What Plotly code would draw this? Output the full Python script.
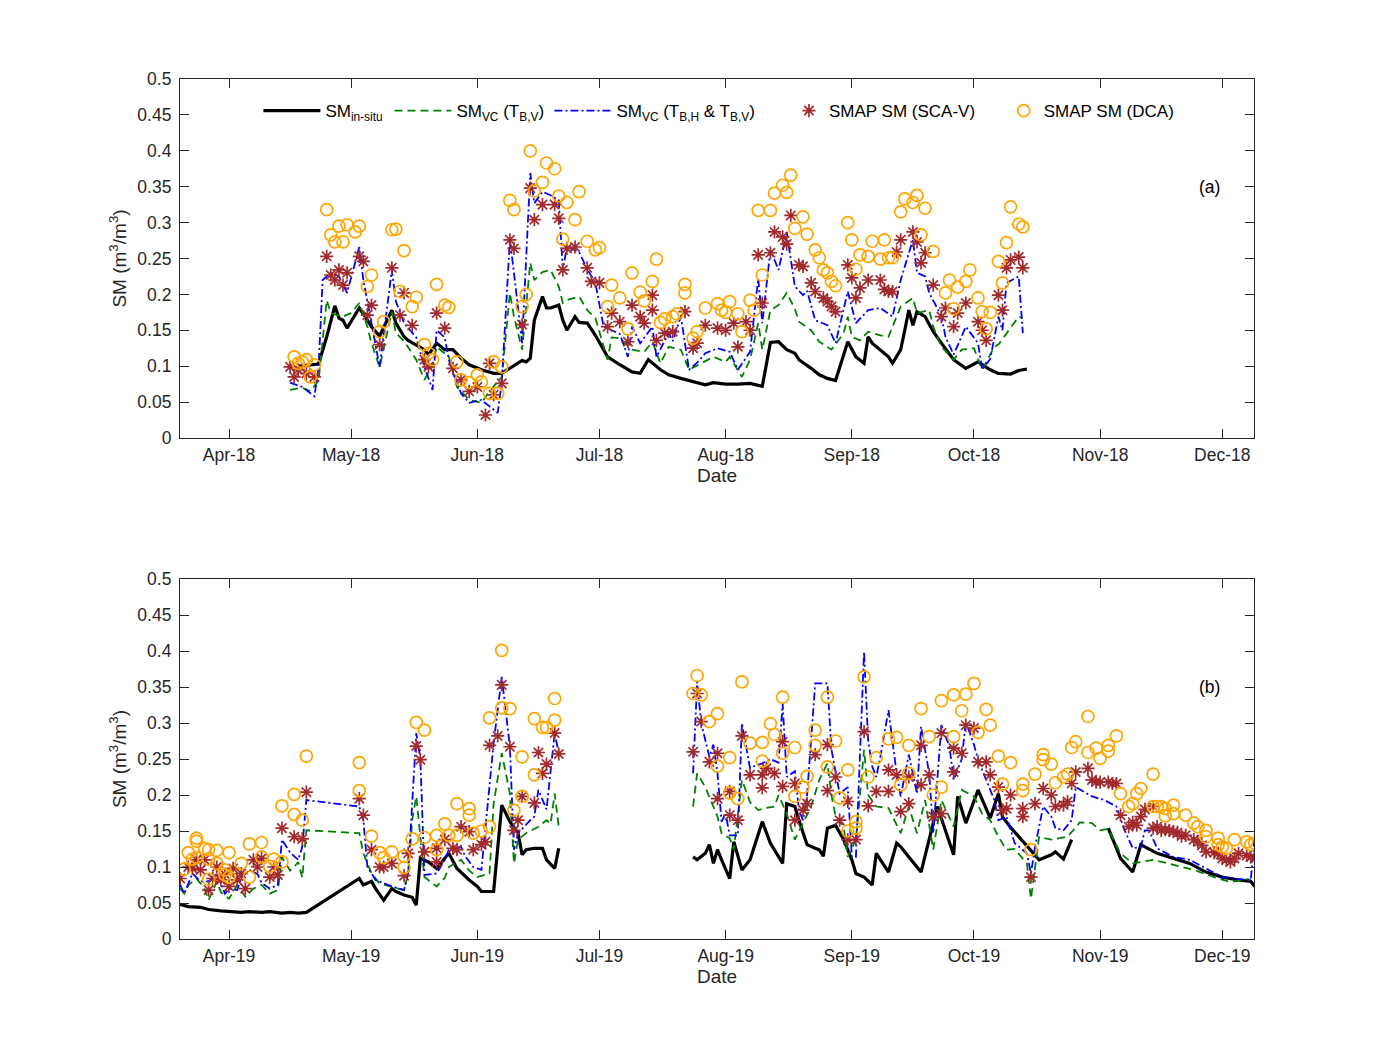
import pandas as pd
import plotly.graph_objects as go

# ---------------- DATA ----------------
# day offsets are counted from 1 April of each year
BASE_2018 = "2018-04-01"
BASE_2019 = "2019-04-01"

# ---- 2018 (panel a) ----
insitu18_days = [17,20,22,24,26,27,28,29,32,34,
                 35,37,40,41,43,44,46,48,49,51,
                 53,55,57,59,62,65,67,72,73,74,
                 75,77,78,79,81,82,83,85,86,88,
                 90,93,96,99,101,103,106,108,111,113,
                 117,119,122,125,128,131,133,135,137,139,
                 140,143,145,147,149,152,154,156,157,158,
                 160,162,163,165,166,167,168,169,171,173,
                 175,178,181,184,187,189,192,194,196]
insitu18_vals = [0.100,0.102,0.103,0.141,0.184,0.167,0.164,0.153,0.181,0.164,
                 0.155,0.142,0.178,0.160,0.141,0.136,0.130,0.123,0.116,0.132,
                 0.123,0.123,0.111,0.102,0.095,0.090,0.090,0.108,0.106,0.111,
                 0.164,0.197,0.181,0.181,0.185,0.164,0.150,0.169,0.161,0.160,
                 0.143,0.113,0.102,0.092,0.090,0.109,0.095,0.088,0.083,0.080,
                 0.074,0.077,0.075,0.075,0.076,0.072,0.133,0.134,0.123,0.118,
                 0.109,0.097,0.088,0.083,0.080,0.134,0.113,0.104,0.141,0.132,
                 0.123,0.113,0.104,0.123,0.150,0.178,0.157,0.176,0.169,0.148,
                 0.132,0.109,0.097,0.106,0.095,0.090,0.089,0.094,0.096]

vcv18_days = [15,18,20,22,24,25,28,30,32,34,
              35,37,40,41,43,45,46,48,50,51,
              54,56,59,62,64,67,69,70,72,74,
              75,77,79,81,82,83,86,88,90,93,
              94,96,99,102,104,106,108,111,113,116,
              119,122,123,126,128,130,131,133,135,137,
              139,140,143,145,148,151,152,153,155,157,
              160,162,165,168,169,172,173,175,178,180,
              183,185,188,189,191,194,195]
vcv18_vals = [0.067,0.070,0.065,0.080,0.192,0.174,0.169,0.174,0.188,0.155,
              0.132,0.099,0.176,0.146,0.135,0.118,0.109,0.081,0.100,0.127,
              0.113,0.071,0.053,0.049,0.065,0.085,0.202,0.169,0.123,0.244,
              0.220,0.231,0.234,0.211,0.188,0.192,0.197,0.178,0.167,0.109,
              0.140,0.139,0.123,0.120,0.134,0.104,0.127,0.123,0.095,0.104,
              0.113,0.106,0.113,0.085,0.109,0.160,0.123,0.178,0.185,0.202,
              0.180,0.162,0.150,0.134,0.123,0.146,0.169,0.141,0.136,0.148,
              0.143,0.141,0.183,0.195,0.174,0.178,0.155,0.127,0.109,0.123,
              0.125,0.095,0.127,0.130,0.146,0.169,0.167]

vchv18_days = [15,18,21,22,23,25,27,29,32,33,
               35,37,40,41,43,45,46,48,50,51,
               53,54,57,59,62,64,66,67,69,70,
               72,74,75,77,79,81,82,83,86,88,
               90,92,94,96,98,99,101,104,105,108,
               109,111,113,115,117,120,123,125,128,130,
               131,133,135,137,139,141,142,144,147,149,
               152,154,157,160,163,165,168,169,171,172,
               175,176,178,181,184,185,187,189,190,191,
               194,195]
vchv18_vals = [0.077,0.071,0.058,0.099,0.220,0.230,0.225,0.202,0.266,0.220,
               0.160,0.099,0.234,0.190,0.160,0.146,0.140,0.099,0.067,0.150,
               0.140,0.109,0.062,0.049,0.053,0.044,0.035,0.077,0.276,0.230,
               0.132,0.369,0.327,0.343,0.338,0.331,0.234,0.266,0.259,0.235,
               0.216,0.155,0.150,0.145,0.113,0.155,0.132,0.155,0.113,0.146,
               0.135,0.169,0.095,0.105,0.118,0.125,0.120,0.095,0.120,0.222,
               0.160,0.262,0.234,0.287,0.211,0.199,0.205,0.164,0.157,0.132,
               0.204,0.160,0.178,0.181,0.169,0.220,0.276,0.230,0.225,0.202,
               0.170,0.141,0.116,0.155,0.132,0.095,0.110,0.169,0.150,0.216,
               0.225,0.146]

sca18_days = [15,16,17,19,21,24,25,26,27,28,
              29,32,33,34,35,37,40,42,43,45,
              48,49,51,53,55,57,59,61,63,64,
              65,67,69,70,72,74,75,77,80,81,
              82,83,85,88,89,91,93,94,96,98,
              99,101,102,104,104,105,107,109,112,114,
              115,117,120,122,124,125,127,128,130,131,
              133,134,136,137,138,140,141,143,144,146,
              147,148,149,152,153,154,155,157,160,161,
              162,163,164,165,168,169,170,171,173,175,
              176,178,179,181,184,185,186,189,190,191,
              192,194,195]
sca18_vals = [0.099,0.085,0.095,0.090,0.085,0.253,0.227,0.220,0.234,0.213,
              0.230,0.253,0.246,0.171,0.185,0.130,0.237,0.171,0.202,0.157,
              0.109,0.099,0.174,0.153,0.097,0.081,0.065,0.071,0.032,0.104,
              0.060,0.076,0.276,0.264,0.158,0.348,0.304,0.325,0.325,0.306,
              0.234,0.264,0.266,0.237,0.218,0.216,0.155,0.174,0.162,0.134,
              0.185,0.169,0.160,0.199,0.178,0.136,0.146,0.148,0.176,0.125,
              0.132,0.157,0.153,0.150,0.160,0.127,0.162,0.150,0.255,0.188,
              0.258,0.287,0.280,0.270,0.310,0.241,0.239,0.216,0.204,0.195,
              0.190,0.183,0.176,0.241,0.223,0.195,0.209,0.220,0.220,0.207,
              0.204,0.204,0.259,0.276,0.287,0.273,0.244,0.258,0.213,0.169,
              0.181,0.155,0.174,0.188,0.162,0.150,0.136,0.199,0.178,0.237,
              0.248,0.252,0.237]

dca18_days = [16,17,18,19,20,21,24,25,26,27,
              28,29,31,32,34,35,37,38,40,41,
              42,43,45,46,48,49,50,51,53,54,
              56,57,59,61,62,64,65,66,67,69,
              70,72,73,74,75,77,78,80,81,82,
              83,85,86,88,90,91,93,94,96,98,
              99,101,102,104,105,106,107,109,110,112,
              112,114,115,117,120,121,122,123,125,126,
              128,129,130,131,133,134,136,137,138,139,
              141,142,144,145,146,147,148,149,152,153,
              154,155,157,158,160,161,162,163,165,166,
              168,169,170,171,173,176,177,178,179,181,
              182,184,185,186,187,189,190,191,192,194,
              195]
dca18_vals = [0.113,0.104,0.106,0.109,0.085,0.102,0.318,0.283,0.273,0.295,
              0.273,0.297,0.287,0.295,0.211,0.227,0.148,0.162,0.290,0.291,
              0.204,0.261,0.183,0.196,0.130,0.118,0.109,0.214,0.185,0.182,
              0.106,0.081,0.077,0.088,0.078,0.062,0.106,0.062,0.099,0.331,
              0.318,0.183,0.200,0.400,0.344,0.356,0.383,0.375,0.337,0.277,
              0.328,0.304,0.343,0.274,0.262,0.265,0.183,0.213,0.195,0.152,
              0.230,0.203,0.191,0.218,0.249,0.161,0.166,0.169,0.173,0.214,
              0.202,0.139,0.148,0.181,0.187,0.178,0.175,0.190,0.173,0.148,
              0.192,0.178,0.317,0.227,0.317,0.341,0.352,0.342,0.366,0.292,
              0.308,0.284,0.262,0.251,0.234,0.230,0.218,0.212,0.300,0.276,
              0.235,0.255,0.253,0.274,0.249,0.276,0.251,0.251,0.315,0.333,
              0.328,0.338,0.283,0.320,0.260,0.202,0.220,0.180,0.210,0.218,
              0.234,0.195,0.176,0.152,0.175,0.246,0.216,0.272,0.322,0.298,
              0.294]

# ---- 2019 (panel b) ; None = missing data ----
insitu19_days = [-12,-10,-7,-5,-2,0,3,5,8,10,
                 13,15,17,19,32,33,35,36,38,40,
                 41,43,44,45,46,47,49,51,54,56,
                 59,61,62,65,67,69,71,72,73,75,
                 77,78,80,81,95,114,115,117,118,119,
                 120,121,123,124,126,128,131,133,136,137,
                 139,140,142,144,145,146,147,149,151,153,
                 154,156,158,159,162,164,165,167,170,174,
                 175,178,179,181,184,187,189,190,192,194,
                 196,199,202,203,205,207,211,216,219,222,
                 224,225,228,232,236,240,244,248,251,252]
insitu19_vals = [0.048,0.045,0.044,0.041,0.039,0.038,0.037,0.038,0.037,0.038,
                 0.036,0.037,0.036,0.037,0.084,0.075,0.080,0.070,0.054,0.070,
                 0.066,0.061,0.059,0.058,0.047,0.112,0.107,0.098,0.119,0.098,
                 0.082,0.073,0.066,0.066,0.186,0.163,0.147,0.117,0.124,0.126,
                 0.126,0.110,0.098,0.126,None,0.114,0.110,0.119,0.131,0.105,
                 0.124,0.110,0.084,0.135,0.096,0.110,0.163,0.133,0.105,0.188,
                 0.184,0.165,0.131,0.126,0.124,0.115,0.154,0.158,0.138,0.110,
                 0.091,0.086,0.075,0.119,0.093,0.133,0.128,0.114,0.093,0.184,
                 0.168,0.117,0.198,0.161,0.207,0.168,0.202,0.170,0.155,0.142,
                 0.128,0.110,0.117,0.121,0.111,0.138,None,0.154,0.112,0.093,
                 0.131,0.128,0.119,0.112,0.105,0.093,0.086,0.082,0.080,0.073]

vcv19_days = [-12,-11,-10,-8,-6,-5,-3,-2,0,2,
              4,6,8,10,12,13,15,16,17,18,
              19,32,33,35,37,40,43,44,45,46,
              47,48,51,53,54,57,59,61,64,65,
              67,69,70,71,73,76,78,79,80,81,
              95,114,115,117,119,120,121,123,124,126,
              128,130,132,134,135,137,139,141,143,145,
              147,148,149,151,152,154,156,157,159,162,
              164,165,167,169,171,173,175,178,180,183,
              185,187,189,191,193,196,197,199,202,206,
              209,212,214,216,219,222,227,232,237,242,
              246,250,251]
vcv19_vals = [0.070,0.063,0.075,0.084,0.070,0.054,0.080,0.065,0.056,0.075,
              0.059,0.070,0.075,0.063,0.068,0.114,0.095,0.100,0.107,0.085,
              0.151,0.147,0.119,0.091,0.077,0.073,0.068,0.091,0.165,0.198,
              0.142,0.086,0.073,0.085,0.100,0.110,0.095,0.086,0.091,0.188,
              0.258,0.202,0.105,0.138,0.147,0.156,0.165,0.160,0.202,0.156,
              None,0.184,0.230,0.211,0.184,0.170,0.147,0.140,0.124,0.221,
              0.190,0.179,0.182,0.184,0.200,0.174,0.138,0.160,0.184,0.221,
              0.244,0.200,0.170,0.156,0.114,0.138,0.263,0.200,0.184,0.182,
              0.160,0.147,0.184,0.147,0.193,0.124,0.193,0.156,0.207,0.198,
              0.174,0.165,0.142,0.124,0.125,0.105,0.056,0.142,0.138,0.142,
              0.162,0.161,0.151,0.153,0.119,0.105,0.110,0.103,0.096,0.086,
              0.079,0.083,0.082]

vchv19_days = [-12,-11,-9,-7,-5,-3,-1,0,2,3,
               5,7,8,10,12,13,15,17,18,19,
               32,33,34,36,40,43,44,46,47,48,
               51,53,54,57,58,60,62,65,67,69,
               70,71,74,75,76,78,80,81,95,114,
               115,116,118,119,120,121,122,123,125,126,
               128,129,131,133,135,136,137,139,140,141,
               142,144,147,148,150,152,153,154,156,157,
               158,159,160,162,164,165,167,169,170,172,
               173,175,177,178,180,181,183,184,186,188,
               189,191,193,196,197,198,200,202,203,205,
               207,208,212,215,218,220,222,224,225,226,
               228,232,236,240,244,250,251,252]
vchv19_vals = [0.075,0.063,0.091,0.080,0.080,0.091,0.063,0.070,0.068,0.085,
               0.096,0.090,0.078,0.070,0.075,0.138,0.120,0.110,0.128,0.193,
               0.184,0.165,0.100,0.082,0.073,0.068,0.091,0.286,0.251,0.089,
               0.091,0.110,0.124,0.128,0.115,0.100,0.096,0.272,0.364,0.267,
               0.124,0.147,0.165,0.170,0.207,0.180,0.286,0.258,None,0.230,
               0.357,0.300,0.253,0.270,0.230,0.163,0.174,0.144,0.144,0.300,
               0.237,0.240,0.244,0.250,0.245,0.327,0.225,0.233,0.179,0.165,
               0.200,0.355,0.355,0.263,0.202,0.211,0.114,0.114,0.399,0.276,
               0.240,0.225,0.253,0.318,0.230,0.198,0.256,0.202,0.295,0.230,
               0.147,0.297,0.267,0.221,0.250,0.302,0.270,0.249,0.221,0.193,
               0.165,0.170,0.133,0.119,0.091,0.128,0.184,0.170,0.154,0.151,
               0.165,0.211,0.198,0.193,0.184,0.151,0.126,0.128,0.151,0.151,
               0.126,0.114,0.110,0.098,0.086,0.082,0.082,0.147]

sca19_days = [-12,-10,-9,-8,-7,-6,-5,-4,-3,-2,
              -1,0,1,2,3,4,6,7,8,10,
              11,12,13,16,18,19,32,33,35,37,
              38,40,43,44,46,47,48,51,51,53,
              55,56,57,59,60,62,63,64,66,67,
              69,70,71,72,75,76,77,78,80,81,
              114,115,116,118,120,120,123,123,125,126,
              128,131,131,132,134,136,136,139,139,141,
              142,144,147,147,149,150,152,152,154,156,
              157,159,162,162,164,165,167,167,170,170,
              172,173,175,175,178,178,180,181,183,184,
              186,187,189,190,191,192,195,195,197,198,
              200,202,203,205,206,207,208,211,212,213,
              214,216,217,218,219,221,222,223,224,225,
              227,227,228,229,230,231,232,233,234,235,
              237,238,239,240,242,243,244,245,246,247,
              248,250,251,252]
sca19_vals = [0.084,0.100,0.098,0.110,0.096,0.110,0.068,0.084,0.100,0.082,
              0.090,0.073,0.098,0.082,0.091,0.070,0.110,0.100,0.112,0.086,
              0.100,0.089,0.154,0.142,0.139,0.204,0.195,0.172,0.124,0.100,
              0.100,0.105,0.088,0.119,0.268,0.249,0.121,0.126,0.107,0.138,
              0.126,0.124,0.156,0.149,0.124,0.131,0.135,0.269,0.282,0.353,
              0.267,0.151,0.165,0.198,0.189,0.259,0.230,0.243,0.286,0.257,
              0.260,0.341,0.302,0.246,0.258,0.195,0.205,0.172,0.165,0.282,
              0.228,0.228,0.210,0.237,0.230,0.274,0.212,0.216,0.165,0.179,
              0.188,0.256,0.270,0.206,0.225,0.165,0.191,0.138,0.138,0.288,
              0.185,0.205,0.205,0.235,0.228,0.177,0.188,0.225,0.214,0.269,
              0.228,0.170,0.174,0.286,0.265,0.232,0.258,0.297,0.293,0.246,
              0.246,0.228,0.211,0.179,0.181,0.200,0.181,0.170,0.086,0.188,
              0.209,0.200,0.184,0.186,0.191,0.216,0.232,0.237,0.221,0.218,
              0.218,0.218,0.216,0.216,0.172,0.156,0.162,0.158,0.170,0.180,
              0.184,0.154,0.156,0.151,0.152,0.151,0.149,0.148,0.143,0.144,
              0.138,0.135,0.130,0.121,0.120,0.119,0.112,0.110,0.107,0.112,
              0.119,0.116,0.114,0.112]

dca19_days = [-11,-10,-9,-8,-8,-8,-6,-5,-5,-5,
              -3,-3,-1,-1,0,0,3,5,5,8,
              8,10,11,13,13,16,16,18,19,32,
              32,35,37,38,40,43,43,45,46,48,
              48,51,51,53,54,56,56,59,59,60,
              62,64,64,67,67,69,70,72,72,75,
              75,77,78,80,80,114,115,116,118,120,
              120,123,123,125,126,128,131,131,133,134,
              136,136,139,139,141,142,144,144,147,147,
              149,150,152,152,154,154,156,157,159,162,
              164,165,167,167,170,172,173,175,175,178,
              178,180,181,183,184,186,187,189,190,192,
              195,195,197,198,200,200,202,203,205,206,
              207,208,211,211,213,214,216,216,218,219,
              221,222,223,224,227,227,228,229,230,230,
              232,232,235,237,238,240,240,243,243,244,
              245,247,250,251,252]
dca19_vals = [0.097,0.120,0.111,0.140,0.136,0.113,0.126,0.111,0.124,0.083,
              0.123,0.105,0.096,0.089,0.086,0.120,0.105,0.086,0.132,0.134,
              0.114,0.101,0.111,0.107,0.185,0.173,0.201,0.165,0.254,0.245,
              0.206,0.143,0.120,0.113,0.121,0.099,0.115,0.139,0.301,0.290,
              0.141,0.144,0.124,0.160,0.144,0.144,0.188,0.181,0.172,0.147,
              0.150,0.156,0.307,0.321,0.401,0.320,0.179,0.198,0.253,0.228,
              0.306,0.294,0.294,0.334,0.304,0.341,0.366,0.339,0.302,0.313,
              0.240,0.252,0.203,0.195,0.357,0.272,0.273,0.247,0.299,0.284,
              0.336,0.258,0.266,0.198,0.211,0.226,0.269,0.290,0.336,0.239,
              0.275,0.196,0.235,0.150,0.163,0.154,0.364,0.225,0.252,0.278,
              0.280,0.214,0.230,0.269,0.320,0.281,0.200,0.211,0.331,0.339,
              0.281,0.317,0.340,0.355,0.287,0.319,0.297,0.254,0.215,0.245,
              0.215,0.206,0.124,0.229,0.256,0.249,0.243,0.217,0.225,0.229,
              0.266,0.274,0.309,0.259,0.265,0.251,0.261,0.269,0.282,0.202,
              0.184,0.188,0.202,0.209,0.229,0.184,0.184,0.184,0.181,0.171,
              0.186,0.174,0.172,0.161,0.156,0.151,0.142,0.140,0.131,0.128,
              0.126,0.138,0.135,0.131,0.133]

y_ticks = [0, 0.05, 0.1, 0.15, 0.2, 0.25, 0.3, 0.35, 0.4, 0.45, 0.5]
y_tick_text = ["0", "0.05", "0.1", "0.15", "0.2", "0.25", "0.3", "0.35", "0.4", "0.45", "0.5"]

legend_names = [
    "SM<sub>in-situ</sub>",
    "SM<sub>VC</sub> (T<sub>B,V</sub>)",
    "SM<sub>VC</sub> (T<sub>B,H</sub> &amp; T<sub>B,V</sub>)",
    "SMAP SM (SCA-V)",
    "SMAP SM (DCA)",
]

# ---------------- STYLE ----------------
FONT = "Liberation Sans, Arial, Helvetica, sans-serif"
AX_COL = "#262626"
C_INSITU = "black"
C_V = "rgb(0,128,0)"
C_HV = "rgb(0,0,255)"
C_SCA = "rgb(162,42,45)"
C_DCA = "rgb(255,165,0)"


def dates(base, days):
    b = pd.Timestamp(base)
    return [b + pd.Timedelta(days=d) for d in days]


fig = go.Figure()

panels = [
    ("x", "y", BASE_2018, True,
     (insitu18_days, insitu18_vals), (vcv18_days, vcv18_vals), (vchv18_days, vchv18_vals),
     (sca18_days, sca18_vals), (dca18_days, dca18_vals)),
    ("x2", "y2", BASE_2019, False,
     (insitu19_days, insitu19_vals), (vcv19_days, vcv19_vals), (vchv19_days, vchv19_vals),
     (sca19_days, sca19_vals), (dca19_days, dca19_vals)),
]

legend_ids = ["legend", "legend2", "legend3", "legend4", "legend5"]

for xa, ya, base, show, ins, vcv, vchv, sca, dca in panels:
    fig.add_trace(go.Scatter(x=dates(base, ins[0]), y=ins[1], mode="lines",
                             line=dict(color=C_INSITU, width=3.2),
                             name=legend_names[0], showlegend=show, legend=legend_ids[0],
                             xaxis=xa, yaxis=ya, connectgaps=False))
    fig.add_trace(go.Scatter(x=dates(base, vcv[0]), y=vcv[1], mode="lines",
                             line=dict(color=C_V, width=1.8, dash="8px,5px"),
                             name=legend_names[1], showlegend=show, legend=legend_ids[1],
                             xaxis=xa, yaxis=ya, connectgaps=False))
    fig.add_trace(go.Scatter(x=dates(base, vchv[0]), y=vchv[1], mode="lines",
                             line=dict(color=C_HV, width=1.8, dash="8px,3px,2px,3px"),
                             name=legend_names[2], showlegend=show, legend=legend_ids[2],
                             xaxis=xa, yaxis=ya, connectgaps=False))
    fig.add_trace(go.Scatter(x=dates(base, sca[0]), y=sca[1], mode="markers",
                             marker=dict(symbol="asterisk-open", size=11,
                                         line=dict(color=C_SCA, width=1.7), color=C_SCA),
                             name=legend_names[3], showlegend=show, legend=legend_ids[3],
                             xaxis=xa, yaxis=ya))
    fig.add_trace(go.Scatter(x=dates(base, dca[0]), y=dca[1], mode="markers",
                             marker=dict(symbol="circle-open", size=12,
                                         line=dict(color=C_DCA, width=1.7), color=C_DCA),
                             name=legend_names[4], showlegend=show, legend=legend_ids[4],
                             xaxis=xa, yaxis=ya))


def xaxis(year, anchor):
    return dict(
        anchor=anchor,
        range=[f"{year}-03-19 23:00", f"{year}-12-08 19:00"],
        tickmode="linear", tick0=f"{year}-04-01", dtick="M1", tickformat="%b-%y",
        ticks="inside", ticklen=9, tickwidth=1.2, tickcolor=AX_COL,
        showline=True, linecolor=AX_COL, linewidth=1.2, mirror="ticks",
        showgrid=False, zeroline=False,
        tickfont=dict(family=FONT, size=17.5, color=AX_COL),
        ticklabelstandoff=1,
        title=dict(text="Date", font=dict(family=FONT, size=19, color=AX_COL), standoff=1),
        automargin=False,
    )


def yaxis(anchor, domain):
    return dict(
        anchor=anchor, domain=domain, range=[0, 0.5],
        tickmode="array", tickvals=y_ticks, ticktext=y_tick_text,
        ticks="inside", ticklen=9, tickwidth=1.2, tickcolor=AX_COL,
        showline=True, linecolor=AX_COL, linewidth=1.2, mirror="ticks",
        showgrid=False, zeroline=False,
        tickfont=dict(family=FONT, size=17.5, color=AX_COL),
        ticklabelstandoff=4,
        title=dict(text="SM (m<sup>3</sup>/m<sup>3</sup>)",
                   font=dict(family=FONT, size=19, color=AX_COL), standoff=5),
        automargin=False,
    )


legend_x = [0.073, 0.195, 0.344, 0.567, 0.767]
legend_w = [57, 57, 57, 30, 30]
legends = {}
for lid, lx, lw in zip(legend_ids, legend_x, legend_w):
    legends[lid] = dict(x=lx, y=0.9628, xanchor="left", yanchor="middle",
                        orientation="h", bgcolor="rgba(0,0,0,0)", borderwidth=0,
                        itemwidth=lw, font=dict(family=FONT, size=17, color="black"))

fig.update_layout(
    width=1386, height=1056,
    margin=dict(l=180, r=132, t=79, b=117, autoexpand=False),
    paper_bgcolor="white", plot_bgcolor="white",
    font=dict(family=FONT, color=AX_COL),
    xaxis=xaxis(2018, "y"),
    yaxis=yaxis("x", [0.5826, 1.0]),
    xaxis2=xaxis(2019, "y2"),
    yaxis2=yaxis("x2", [0.0, 0.4186]),
    annotations=[
        dict(text="(a)", x=0.9705, y=0.35, xref="x domain", yref="y", showarrow=False,
             font=dict(family=FONT, size=17.5, color="black")),
        dict(text="(b)", x=0.9705, y=0.35, xref="x2 domain", yref="y2", showarrow=False,
             font=dict(family=FONT, size=17.5, color="black")),
    ],
    **legends,
)

fig.write_html("out.html")
